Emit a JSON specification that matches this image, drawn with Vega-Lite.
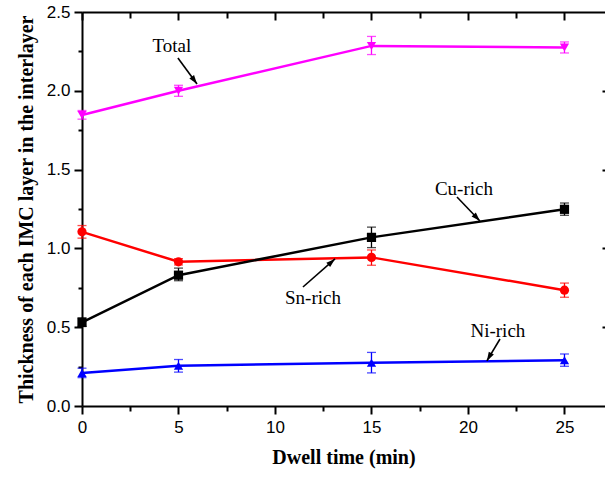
{
  "$schema": "https://vega.github.io/schema/vega-lite/v6.json",
  "width": 523,
  "height": 394,
  "autosize": "none",
  "padding": {"left": 82, "top": 12, "right": 0, "bottom": 71},
  "background": "white",
  "config": {
    "view": {"stroke": null},
    "axis": {
      "grid": false,
      "labelFlush": false,
      "labelOverlap": false,
      "domainColor": "black",
      "domainWidth": 2,
      "tickColor": "black",
      "tickWidth": 2,
      "labelFont": "Liberation Sans",
      "labelFontSize": 17,
      "labelColor": "black",
      "titleFont": "Liberation Serif",
      "titleFontSize": 20,
      "titleFontWeight": "bold",
      "titleColor": "black"
    }
  },
  "datasets": {
    "main": [
      {"s": "Total", "t": 0, "v": 1.847, "lo": 1.82, "hi": 1.875},
      {"s": "Total", "t": 5, "v": 2.0, "lo": 1.965, "hi": 2.035},
      {"s": "Total", "t": 15, "v": 2.285, "lo": 2.23, "hi": 2.345},
      {"s": "Total", "t": 25, "v": 2.275, "lo": 2.24, "hi": 2.31},
      {"s": "Sn-rich", "t": 0, "v": 1.105, "lo": 1.065, "hi": 1.145},
      {"s": "Sn-rich", "t": 5, "v": 0.915, "lo": 0.895, "hi": 0.935},
      {"s": "Sn-rich", "t": 15, "v": 0.943, "lo": 0.893, "hi": 0.99},
      {"s": "Sn-rich", "t": 25, "v": 0.735, "lo": 0.69, "hi": 0.78},
      {"s": "Cu-rich", "t": 0, "v": 0.53, "lo": 0.505, "hi": 0.56},
      {"s": "Cu-rich", "t": 5, "v": 0.83, "lo": 0.795, "hi": 0.875},
      {"s": "Cu-rich", "t": 15, "v": 1.07, "lo": 1.005, "hi": 1.135},
      {"s": "Cu-rich", "t": 25, "v": 1.248, "lo": 1.21, "hi": 1.288},
      {"s": "Ni-rich", "t": 0, "v": 0.21, "lo": 0.18, "hi": 0.24},
      {"s": "Ni-rich", "t": 5, "v": 0.255, "lo": 0.215, "hi": 0.295},
      {"s": "Ni-rich", "t": 15, "v": 0.275, "lo": 0.21, "hi": 0.34},
      {"s": "Ni-rich", "t": 25, "v": 0.29, "lo": 0.252, "hi": 0.33}
    ],
    "notes": [
      {"label": "Total", "tx": 4.66, "ty": 2.284, "x1": 4.97, "y1": 2.208, "x2": 5.96, "y2": 2.043, "ang": 143.8},
      {"label": "Cu-rich", "tx": 19.79, "ty": 1.377, "x1": 19.43, "y1": 1.326, "x2": 20.62, "y2": 1.174, "ang": 136.2},
      {"label": "Sn-rich", "tx": 11.97, "ty": 0.685, "x1": 11.45, "y1": 0.755, "x2": 13.11, "y2": 0.933, "ang": 48.8},
      {"label": "Ni-rich", "tx": 21.55, "ty": 0.476, "x1": 21.66, "y1": 0.425, "x2": 20.98, "y2": 0.286, "ang": 209.5}
    ]
  },
  "resolve": {"axis": {"x": "independent", "y": "independent"}},
  "layer": [
    {
      "data": {"name": "main"},
      "mark": {"type": "rule", "strokeWidth": 1.3},
      "encoding": {
        "x": {"field": "t", "type": "quantitative", "scale": {"domain": [0, 27.1], "nice": false},
          "axis": {"orient": "bottom", "values": [0, 5, 10, 15, 20, 25], "tickSize": 8, "labelPadding": 5, "title": "Dwell time (min)", "titlePadding": 12}},
        "y": {"field": "lo", "type": "quantitative", "scale": {"domain": [0, 2.5], "nice": false},
          "axis": {"orient": "left", "values": [0, 0.5, 1, 1.5, 2, 2.5], "format": ".1f", "tickSize": 8, "labelPadding": 4, "title": "Thickness of each IMC layer in the interlayer", "titlePadding": 10}},
        "y2": {"field": "hi"},
        "color": {"field": "s", "type": "nominal", "legend": null,
          "scale": {"domain": ["Total", "Sn-rich", "Cu-rich", "Ni-rich"], "range": ["#FF00FF", "#FF0000", "#000000", "#0000FF"]}}
      }
    },
    {
      "data": {"name": "main"},
      "transform": [{"fold": ["lo", "hi"], "as": ["end", "ev"]}],
      "mark": {"type": "tick", "orient": "horizontal", "size": 9, "thickness": 1.3},
      "encoding": {
        "x": {"field": "t", "type": "quantitative",
          "axis": {"orient": "top", "values": [2.5, 7.5, 12.5, 17.5, 22.5], "tickSize": -6, "domain": false, "labels": false, "title": null}},
        "y": {"field": "ev", "type": "quantitative", "axis": null},
        "color": {"field": "s", "type": "nominal", "legend": null}
      }
    },
    {
      "data": {"name": "main"},
      "mark": {"type": "line", "strokeWidth": 2.5},
      "encoding": {
        "x": {"field": "t", "type": "quantitative",
          "axis": {"orient": "bottom", "values": [2.5, 7.5, 12.5, 17.5, 22.5], "tickSize": 5, "domain": false, "labels": false, "title": null}},
        "y": {"field": "v", "type": "quantitative",
          "axis": {"orient": "left", "values": [0.25, 0.75, 1.25, 1.75, 2.25], "tickSize": 4, "domain": false, "labels": false, "title": null}},
        "color": {"field": "s", "type": "nominal", "legend": null},
        "detail": {"field": "s"}
      }
    },
    {
      "data": {"name": "main"},
      "mark": {"type": "point", "filled": true, "opacity": 1, "size": 85},
      "encoding": {
        "x": {"field": "t", "type": "quantitative",
          "axis": {"orient": "top", "values": [0, 5, 10, 15, 20, 25], "tickSize": -8, "domain": true, "labels": false, "title": null}},
        "y": {"field": "v", "type": "quantitative",
          "axis": {"orient": "right", "values": [0.5, 1, 1.5, 2], "tickSize": -3, "domain": false, "labels": false, "title": null}},
        "color": {"field": "s", "type": "nominal", "legend": null},
        "shape": {"field": "s", "type": "nominal", "legend": null,
          "scale": {"domain": ["Total", "Sn-rich", "Cu-rich", "Ni-rich"], "range": ["triangle-down", "circle", "square", "triangle-up"]}}
      }
    },
    {
      "data": {"name": "notes"},
      "mark": {"type": "rule", "color": "black", "strokeWidth": 1.6},
      "encoding": {
        "x": {"field": "x1", "type": "quantitative", "axis": null},
        "y": {"field": "y1", "type": "quantitative", "axis": null},
        "x2": {"field": "x2"},
        "y2": {"field": "y2"}
      }
    },
    {
      "data": {"name": "notes"},
      "mark": {"type": "point", "shape": "M0,0L-0.65,2L0.65,2Z", "filled": true, "color": "black", "opacity": 1, "size": 81},
      "encoding": {
        "x": {"field": "x2", "type": "quantitative", "axis": null},
        "y": {"field": "y2", "type": "quantitative", "axis": null},
        "angle": {"field": "ang", "type": "quantitative", "scale": null}
      }
    },
    {
      "data": {"name": "notes"},
      "mark": {"type": "text", "font": "Liberation Serif", "fontSize": 19, "color": "black", "align": "center", "baseline": "middle"},
      "encoding": {
        "x": {"field": "tx", "type": "quantitative", "axis": null},
        "y": {"field": "ty", "type": "quantitative", "axis": null},
        "text": {"field": "label"}
      }
    }
  ]
}
